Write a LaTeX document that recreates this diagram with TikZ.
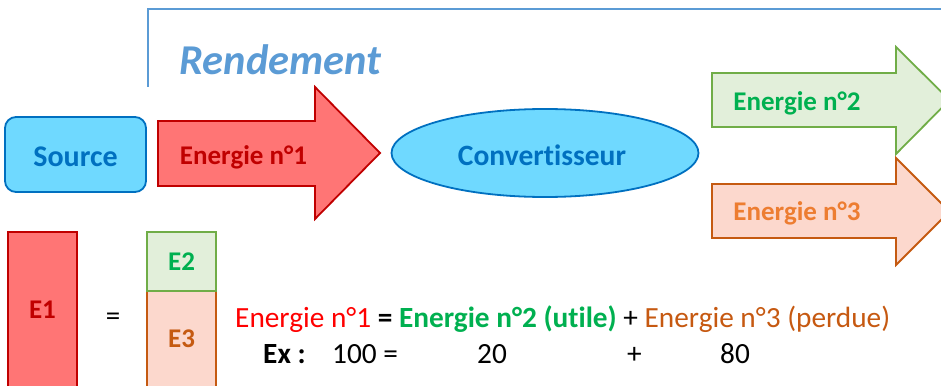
\documentclass[tikz,border=0pt]{standalone}
\usepackage{fontspec}
\usetikzlibrary{shapes.geometric}
\setmainfont{Carlito}[Ligatures={NoCommon}]
\definecolor{frameblue}{HTML}{5B9BD5}
\definecolor{srcfill}{HTML}{6FD9FF}
\definecolor{srcline}{HTML}{0070C0}
\definecolor{redfill}{HTML}{FF7575}
\definecolor{redline}{HTML}{C00000}
\definecolor{grfill}{HTML}{E2EFDA}
\definecolor{grline}{HTML}{70AD47}
\definecolor{grtext}{HTML}{00B050}
\definecolor{orfill}{HTML}{FCD8CD}
\definecolor{orline}{HTML}{C55A11}
\definecolor{ortext}{HTML}{ED7D31}
\definecolor{ortextdark}{HTML}{C65911}
\definecolor{pureRed}{HTML}{FF0000}
\tikzset{
  lbl/.style={font=\fontsize{27}{30}\selectfont\bfseries, inner sep=0pt},
  eqtxt/.style={font=\fontsize{29.3}{33}\selectfont, inner sep=0pt, anchor=base west},
  redshape/.style={fill=redfill, draw=redline, line width=1.8pt},
  grshape/.style={fill=grfill, draw=grline, line width=1.8pt},
  orshape/.style={fill=orfill, draw=orline, line width=1.8pt},
}
\begin{document}
\begin{tikzpicture}[x=1pt,y=-1pt]
\useasboundingbox (0,0) rectangle (941,385);
% frame
\draw[frameblue, line width=1.5pt] (148,87) -- (148,9) -- (950,9);
\node[font=\fontsize{42.5}{46}\selectfont\bfseries\itshape, text=frameblue, inner sep=0pt, anchor=base] (title) at (280.5,75) {Rendement};
% source
\node[draw=srcline, fill=srcfill, line width=1.8pt, rounded corners=11pt, minimum width=141pt, minimum height=75pt, inner sep=0pt] (src) at (75.5,154.5) {};
\node[lbl, font=\fontsize{30}{33}\selectfont\bfseries, text=srcline] (srct) at (75.5,157) {Source};
% red arrow
\draw[redshape] (158,121) -- (315,121) -- (315,87) -- (380,153) -- (315,219) -- (315,186) -- (158,186) -- cycle;
\node[lbl, text=redline] (e1t) at (243.5,157) {Energie n°1};
% converter
\node[draw=srcline, fill=srcfill, line width=1.8pt, ellipse, minimum width=307pt, minimum height=88pt, inner sep=0pt] (conv) at (545,153) {};
\node[lbl, font=\fontsize{29.5}{33}\selectfont\bfseries, text=srcline] (convt) at (542,155) {Convertisseur};
% green arrow
\draw[grshape] (712,73) -- (896,73) -- (896,47) -- (949.5,100) -- (896,154) -- (896,127) -- (712,127) -- cycle;
\node[lbl, text=grtext] (e2t) at (797,103) {Energie n°2};
% orange arrow
\draw[orshape] (712,184) -- (896,184) -- (896,158) -- (949.5,211.5) -- (896,265) -- (896,238) -- (712,238) -- cycle;
\node[lbl, text=ortext] (e3t) at (797,213) {Energie n°3};
% bars
\draw[redshape] (8,232) rectangle (77,400);
\node[lbl, text=redline] (b1) at (42.5,310) {E1};
\node[font=\fontsize{29}{32}\selectfont, inner sep=0pt] (eq) at (113,319) {=};
\draw[orshape] (147,291) rectangle (216,400);
\draw[grshape] (147,232) rectangle (216,291);
\node[lbl, text=grtext] (b2) at (181.5,262) {E2};
\node[lbl, text=orline] (b3) at (181.5,339) {E3};
% equation
\node[eqtxt] (eqline) at (235,327) {\textcolor{pureRed}{Energie n°1} \textbf{=} \textcolor{grtext}{\textbf{Energie n°2 (utile)}} + \textcolor{ortextdark}{Energie n°3 (perdue)}};
\node[eqtxt] (ex) at (263,363) {\textbf{Ex :}};
\node[eqtxt] (ex1) at (332,363) {100 =};
\node[eqtxt] (ex2) at (477,363) {20};
\node[eqtxt] (ex3) at (627,363) {+};
\node[eqtxt] (ex4) at (720,363) {80};
\end{tikzpicture}
\end{document}
